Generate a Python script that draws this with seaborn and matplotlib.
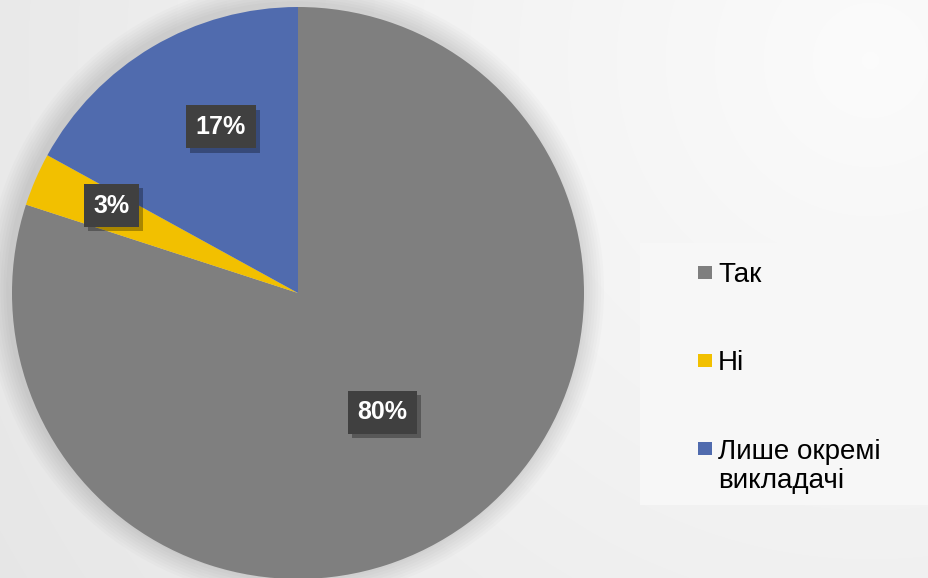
import numpy as np
import matplotlib.pyplot as plt
import matplotlib.patheffects as pe
from matplotlib.patches import Circle, Rectangle
import seaborn as sns

sns.set_theme(style="white")
plt.rcParams['font.family'] = ['Liberation Sans', 'DejaVu Sans']

# data
categories = ["Так", "Ні", "Лише окремі\nвикладачі"]
shares = [80, 3, 17]
pct_labels = ["80%", "3%", "17%"]
colors = ["#7f7f7f", "#f2c000", "#506bae"]
label_dist = [0.51, 0.72, 0.64]    # where each % label sits along its wedge
label_turn = [-0.8, -1.7, -5.7]    # small angle nudge (degrees) off the wedge middle

W, H = 929, 578
fig = plt.figure(figsize=(W / 100, H / 100), dpi=100)

def fx(px):
    return px / W

def fy(py):
    return 1 - py / H

# soft grey background, lighter towards the top right
bg = fig.add_axes([0, 0, 1, 1], zorder=-10)
yy, xx = np.mgrid[0:H, 0:W]
dist = np.hypot(xx - 870, yy - 60)
shade = np.clip(0.985 - dist * 0.00008, 0, 1)
bg.imshow(np.dstack([shade] * 3), extent=[0, 1, 0, 1], aspect="auto")
bg.axis("off")

# pie
R = 286
ax = fig.add_axes([fx(298 - R), fy(293 + R), 2 * R / W, 2 * R / H])
ax.patch.set_alpha(0)

# blurry halo around the pie
for k in range(1, 9):
    ax.add_patch(Circle((-0.01, 0.01), 1 + k * 0.01, color="black", alpha=0.014,
                        lw=0, zorder=0, clip_on=False))

wedges, _ = ax.pie(shares, colors=colors, startangle=90, counterclock=False,
                   radius=1, wedgeprops=dict(linewidth=0))
ax.set_xlim(-1, 1)
ax.set_ylim(-1, 1)
ax.set_aspect("equal")
ax.axis("off")

for w, lab, r, turn in zip(wedges, pct_labels, label_dist, label_turn):
    ang = np.deg2rad((w.theta1 + w.theta2) / 2 + turn)
    t = ax.text(r * np.cos(ang), r * np.sin(ang), lab, ha="center", va="center",
                color="white", fontsize=18, fontweight="bold", zorder=5,
                bbox=dict(boxstyle="square,pad=0.38", fc="#404040", ec="none"))
    t.get_bbox_patch().set_path_effects(
        [pe.withSimplePatchShadow(offset=(3, -3), shadow_rgbFace="black", alpha=0.3)])

# legend panel
fig.add_artist(Rectangle((fx(640), fy(505)), fx(929) - fx(640), fy(243) - fy(505),
                         transform=fig.transFigure, fc="#f7f7f7", ec="none"))

baselines = [282, 370, 458]
line_px = 30
for lab, col, yb in zip(categories, colors, baselines):
    fig.add_artist(Rectangle((fx(698), fy(yb - 3)), 14 / W, 13 / H,
                             transform=fig.transFigure, fc=col, ec="none"))
    extra = lab.count("\n") * line_px
    fig.text(fx(718), fy(yb + extra), lab, ha="left", va="baseline", fontsize=20,
             color="black", linespacing=1.17)

fig.savefig("out.png", dpi=100)
